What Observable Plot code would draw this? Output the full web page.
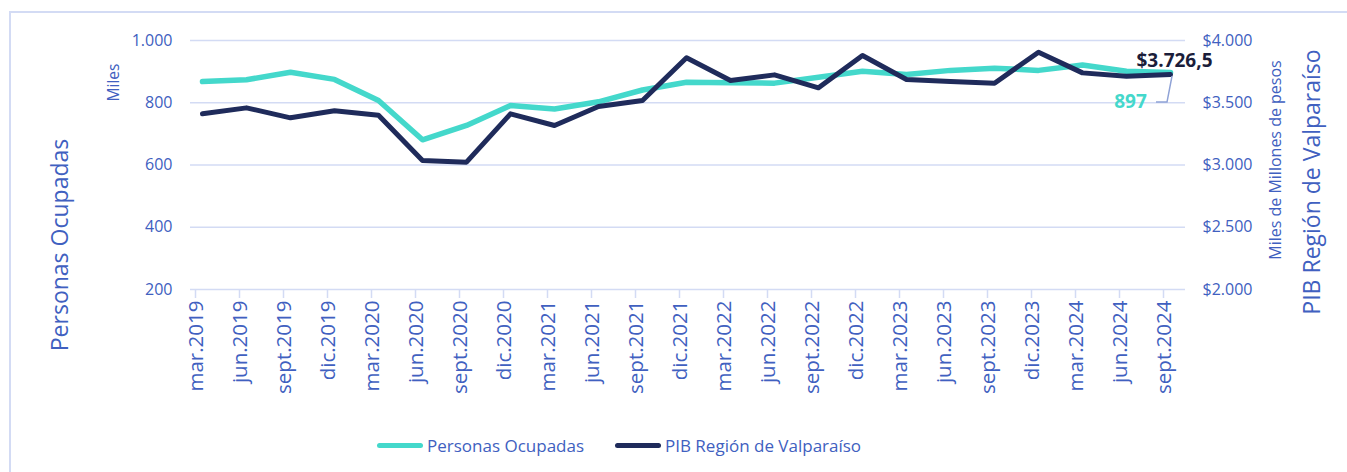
<!DOCTYPE html>
<html>
<head>
<meta charset="utf-8">
<script src="https://cdn.jsdelivr.net/npm/d3@7"></script>
<script src="https://cdn.jsdelivr.net/npm/@observablehq/plot@0.6"></script>
<style>
  html, body { margin: 0; padding: 0; background: #fff; }
  #wrap { position: relative; width: 1347px; height: 472px; overflow: hidden; font-family: "Open Sans", sans-serif; }
  #frame { position: absolute; left: 9px; top: 11px; width: 1400px; height: 500px; border: 2px solid #d3dbf4; box-sizing: border-box; }
  #chart { position: absolute; left: 0; top: 0; }
  .leg { position: absolute; top: 434px; display: flex; align-items: center; font-size: 17px; color: #4060c0; }
  .leg .sw { width: 46px; height: 5px; border-radius: 3px; margin-right: 4px; }
</style>
</head>
<body>
<div id="wrap">
  <div id="frame"></div>
  <div id="chart"></div>
  <div class="leg" style="left:377px"><span class="sw" style="background:#44d8cb"></span><span>Personas Ocupadas</span></div>
  <div class="leg" style="left:615px"><span class="sw" style="background:#1f2b5b"></span><span>PIB Región de Valparaíso</span></div>
</div>
<script>
const periods = ["mar.2019","jun.2019","sept.2019","dic.2019","mar.2020","jun.2020","sept.2020","dic.2020","mar.2021","jun.2021","sept.2021","dic.2021","mar.2022","jun.2022","sept.2022","dic.2022","mar.2023","jun.2023","sept.2023","dic.2023","mar.2024","jun.2024","sept.2024"];
const personas = [868,874,898,875,807,681,727,791,780,803,841,866,864,863,882,901,891,904,911,904,921,901,897];
const pib = [3411,3459,3379,3435,3400,3036,3023,3411,3317,3470,3518,3861,3679,3724,3620,3880,3687,3671,3657,3906,3740,3713,3726.5];
const leftTicks = [200,400,600,800,1000];
const rightTicks = [2000,2500,3000,3500,4000];

const teal = "#44d8cb", navy = "#1f2b5b", txt = "#4060c0", grid = "#d3dbf4";
const loc = d3.formatLocale({decimal: ",", thousands: ".", grouping: [3], currency: ["$", ""]});
const fInt = loc.format(",.0f"), fDec = loc.format(",.1f");
const toLeft = v => 200 + (v - 2000) * 0.4;
const fromLeft = v => (v - 200) / 0.4 + 2000;

const rows = periods.map((p, i) => ({p, personas: personas[i], pib: pib[i], pibL: toLeft(pib[i])}));
const last = rows[rows.length - 1];

const leader = (index, scales) => {
  const x0 = scales.x(last.p), y0 = scales.y(last.pibL);
  const g = d3.create("svg:path")
    .attr("d", `M${x0 - 14},${y0 + 28}L${x0 - 3},${y0 + 28}L${x0 + 2},${y0 + 2}`)
    .attr("fill", "none").attr("stroke", "#8fa2d6").attr("stroke-width", 1.5);
  return g.node();
};

const title = (t, anchor, dx, dy, size) =>
  Plot.text([t], {frameAnchor: anchor, dx, dy, rotate: -90, textAnchor: "middle", lineAnchor: "middle", fontSize: size, fill: txt});

const chart = Plot.plot({
  width: 1347, height: 425,
  marginLeft: 190, marginRight: 162, marginTop: 40, marginBottom: 136,
  style: {fontFamily: "Open Sans", color: txt, background: "transparent", overflow: "visible"},
  x: {type: "point", domain: periods, padding: 0.18, align: 0.44, axis: null},
  y: {domain: [200, 1000], axis: null},
  marks: [
    Plot.ruleY(leftTicks, {stroke: grid, strokeWidth: 1.5}),
    Plot.ruleX(periods, {x: d => d, y1: 200, y2: 200 - 9 * 800 / 249, dx: -7, stroke: grid, strokeWidth: 1.5}),
    Plot.axisY({anchor: "left", ticks: leftTicks, tickSize: 0, tickPadding: 18, tickFormat: fInt, fontSize: 16, fill: txt, label: null}),
    Plot.axisY({anchor: "right", ticks: rightTicks.map(toLeft), tickSize: 0, tickPadding: 17, tickFormat: d => "$" + fInt(fromLeft(d)), fontSize: 16, fill: txt, label: null}),
    Plot.text(periods, {x: d => d, frameAnchor: "bottom", dy: 11, rotate: -90, textAnchor: "end", fontSize: 20.5, fill: txt}),
    title("Personas Ocupadas", "left", -130, 80, 23),
    title("Miles", "top-left", -76, 42, 15.5),
    title("Miles de Millones de pesos", "right", 90, -5, 16),
    title("PIB Región de Valparaíso", "right", 127, 17, 23),
    Plot.line(rows, {x: "p", y: "personas", stroke: teal, strokeWidth: 5.5, strokeLinejoin: "round", strokeLinecap: "round"}),
    Plot.line(rows, {x: "p", y: "pibL", stroke: navy, strokeWidth: 5, strokeLinejoin: "round", strokeLinecap: "round"}),
    leader,
    Plot.text([last], {x: "p", y: "pibL", text: d => "$" + fDec(d.pib), dx: 4, dy: -14, fontSize: 19, fontWeight: "bold", fill: "#1b1d3a"}),
    Plot.text([last], {x: "p", y: "personas", text: d => fInt(d.personas), dx: -40, dy: 29, fontSize: 19, fontWeight: "bold", fill: teal})
  ]
});
document.getElementById("chart").appendChild(chart);
</script>
</body>
</html>
